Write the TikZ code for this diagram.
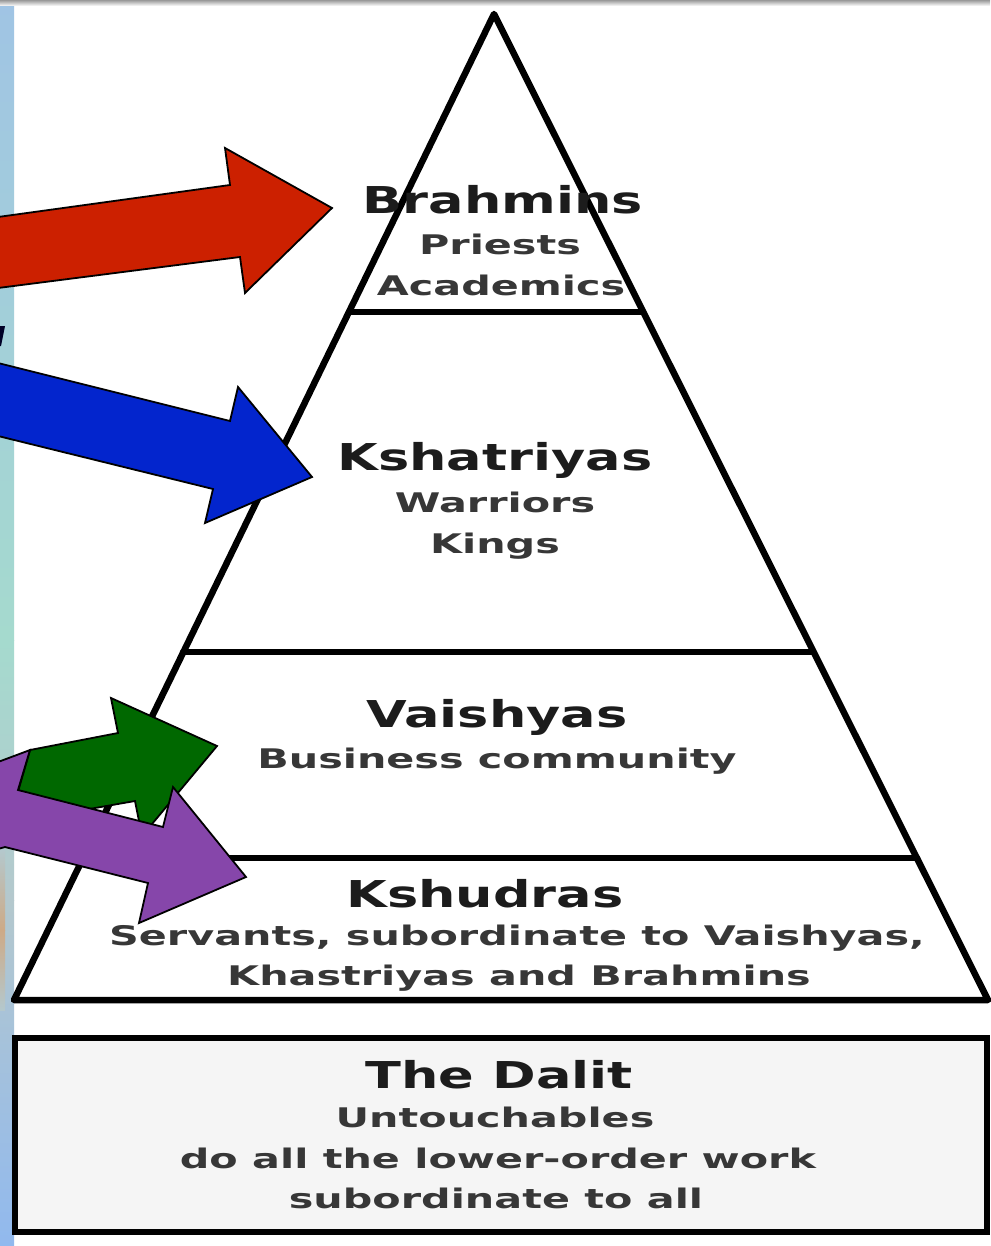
\documentclass[tikz,border=0pt]{standalone}
\usepackage{fontspec}
\newfontfamily\dv[FakeStretch=1.42]{DejaVu Sans}
\newfontfamily\dvs[FakeStretch=1.53]{DejaVu Sans}
\definecolor{arrred}{RGB}{204,32,0}
\definecolor{arrblue}{RGB}{3,37,205}
\definecolor{arrgreen}{RGB}{0,104,0}
\definecolor{arrpurple}{RGB}{134,70,170}
\definecolor{headtxt}{RGB}{28,28,28}
\definecolor{subtxt}{RGB}{55,55,55}
\definecolor{boxfill}{RGB}{245,245,245}
\definecolor{sA}{RGB}{160,196,228}
\definecolor{sB}{RGB}{165,218,206}
\definecolor{sD}{RGB}{180,200,205}
\definecolor{sE}{RGB}{145,185,238}
\tikzset{
  x=1pt, y=-1pt,
  tier/.style={line width=6.5pt, black, line cap=round, line join=round},
  blockarrow/.style={draw=black, line width=1.8pt, line join=miter},
  headlbl/.style={font=\dv\bfseries\fontsize{37}{37}\selectfont, text=headtxt, anchor=base, inner sep=0pt},
  sublbl/.style={font=\dvs\bfseries\fontsize{27}{27}\selectfont, text=subtxt, anchor=base, inner sep=0pt}
}
\begin{document}
\begin{tikzpicture}
\useasboundingbox (0,0) rectangle (990,1246);
\fill[white] (0,0) rectangle (990,1246);
% left strip
\shade[top color=sA, bottom color=sB] (0,0) rectangle (14,640);
\shade[top color=sB, bottom color=sD] (0,640) rectangle (14,900);
\shade[top color=sD, bottom color=sE] (0,900) rectangle (14,1246);
\shade[top color=sD, bottom color={rgb,255:red,205;green,170;blue,135}] (0,850) rectangle (5,930);
\shade[top color={rgb,255:red,205;green,170;blue,135}, bottom color=sD] (0,930) rectangle (5,1010);
% top band
\shade[top color=black!40, bottom color=white] (0,0) rectangle (990,6);
% pyramid
\coordinate (apex) at (494,14);
\coordinate (bl) at (14,1000);
\coordinate (br) at (988,1000);
\draw[tier] (bl) -- (apex) -- (br) -- cycle;
\draw[tier] (349,312) -- (643,312);
\draw[tier] (183,652) -- (813,652);
\draw[tier] (83,858) -- (917,858);
% Dalit box
\draw[line width=6.5pt, fill=boxfill] (15,1038) rectangle (987,1232);
% labels
\node[headlbl] (brah) at (503,214) {Brahmins};
\node[sublbl] (priests) at (500,255) {Priests};
\node[sublbl] (acad) at (501,295) {Academics};
\node[headlbl] (kshat) at (495,470) {Kshatriyas};
\node[sublbl] (warr) at (495,512) {Warriors};
\node[sublbl] (kings) at (495,553) {Kings};
\node[headlbl] (vaish) at (497,727) {Vaishyas};
\node[sublbl] (bus) at (497,768) {Business community};
\node[headlbl] (kshud) at (485,907) {Kshudras};
\node[sublbl] (serv) at (517,945) {Servants, subordinate to Vaishyas,};
\node[sublbl] (khas) at (519,985) {Khastriyas and Brahmins};
\node[headlbl] (dalit) at (499,1088) {The Dalit};
\node[sublbl] (untouch) at (495,1127) {Untouchables};
\node[sublbl] (doall) at (498,1168) {do all the lower-order work};
\node[sublbl] (suball) at (496,1208) {subordinate to all};
% small fragment at left edge
\fill[black!85!blue] (0,326) -- (5,326) -- (1,346) -- (0,346) -- cycle;
% arrows
\filldraw[blockarrow, fill=arrred] (-2,217) -- (230,185) -- (225,148) -- (332,208) -- (245,293) -- (240,257) -- (-2,288);
\filldraw[blockarrow, fill=arrblue] (-2,363) -- (230,421) -- (238,387) -- (312,477) -- (205,523) -- (213,489) -- (-2,436);
\filldraw[blockarrow, fill=arrgreen] (30,750) -- (118,733) -- (111,698) -- (217,746) -- (142,836) -- (135,801) -- (9,823) -- cycle;
\filldraw[blockarrow, fill=arrpurple] (-2,762) -- (30,750) -- (18,790) -- (163,827) -- (173,787) -- (246,877) -- (139,923) -- (148,883) -- (5,847) -- (-2,849);
\end{tikzpicture}
\end{document}
